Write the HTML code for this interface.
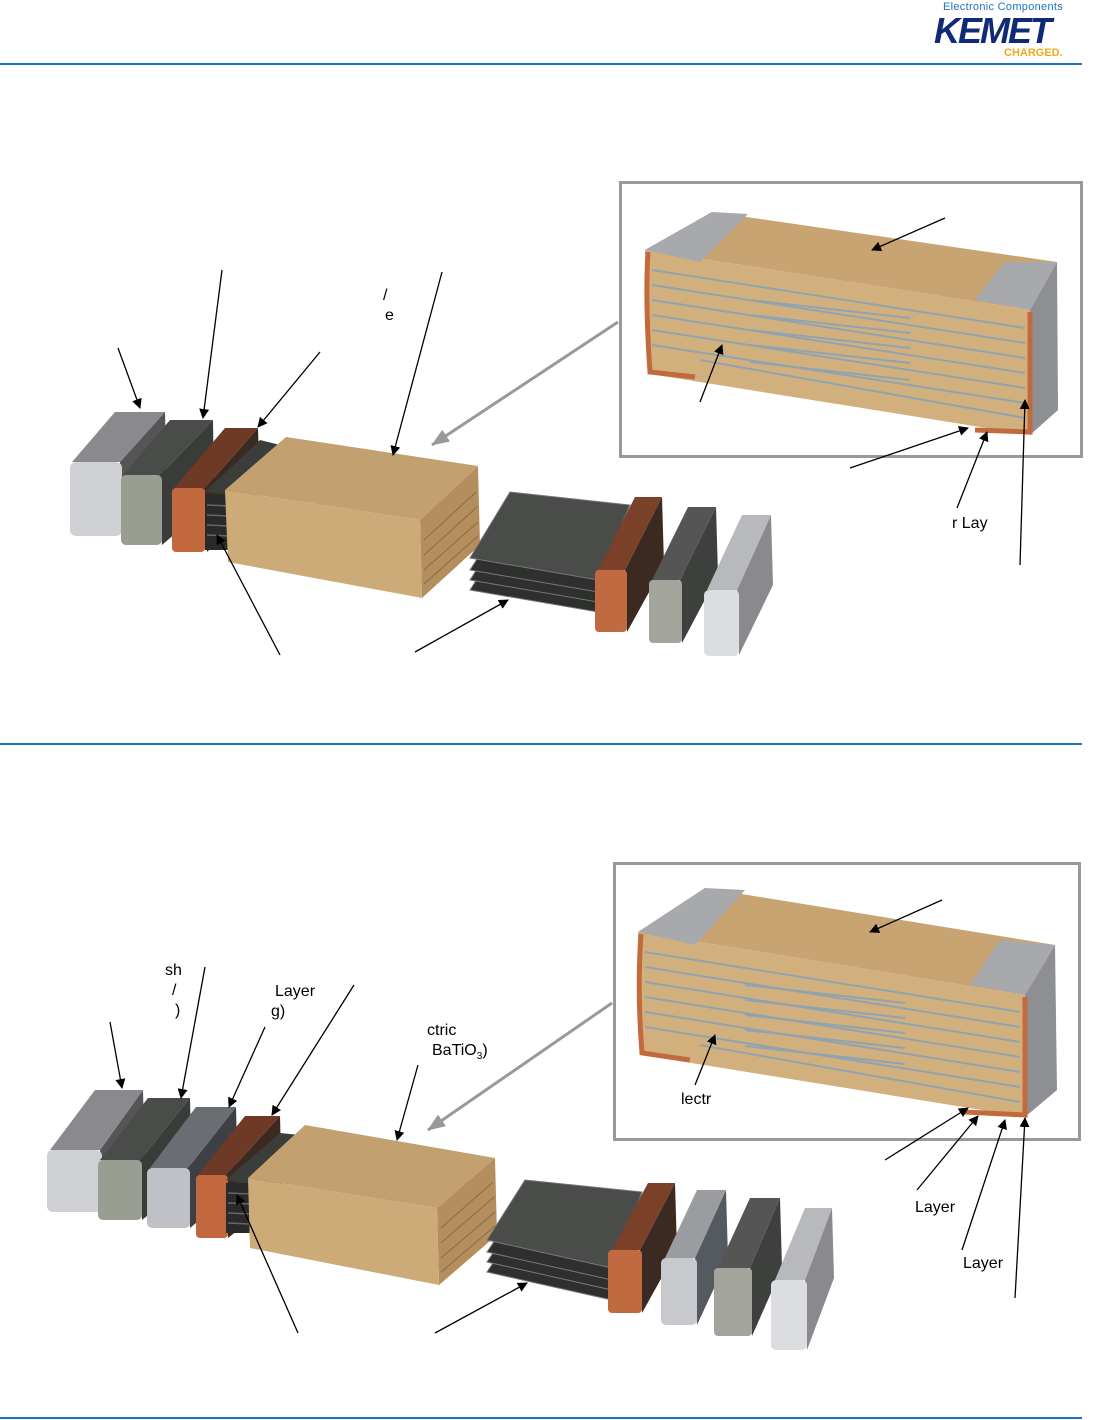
<!DOCTYPE html><html><head><style>body{margin:0;background:#fff}svg{display:block}text{font-family:"Liberation Sans",sans-serif}</style></head><body>
<svg width="1111" height="1420" viewBox="0 0 1111 1420" xmlns="http://www.w3.org/2000/svg">
<defs>
<marker id="a" markerWidth="10" markerHeight="10" refX="9" refY="5" orient="auto" markerUnits="userSpaceOnUse"><path d="M0,0 L10,5 L0,10 z" fill="#000"/></marker>
<marker id="g" markerWidth="18" markerHeight="14" refX="17" refY="7" orient="auto" markerUnits="userSpaceOnUse"><path d="M0,0 L18,7 L0,14 z" fill="#999"/></marker>
<g id="cap"><!-- generic cap: front at origin w=50 h=72, depth dx=45 dy=-50 -->
</g>
</defs>
<!-- header -->
<text x="943" y="10" font-size="11" fill="#1e73be" letter-spacing="0.3">Electronic Components</text>
<text x="934" y="43" font-size="36" font-weight="bold" font-style="italic" fill="#102a78" letter-spacing="-2">KEMET</text>
<text x="1004" y="56" font-size="11" font-weight="bold" fill="#f0a818">CHARGED.</text>
<rect x="0" y="63" width="1082" height="2" fill="#1e73be"/>
<rect x="0" y="743" width="1082" height="2" fill="#1e73be"/>
<rect x="0" y="1417" width="1082" height="2" fill="#1e73be"/>

<!-- ===== TOP DIAGRAM ===== -->
<g>
<!-- cap1 light grey -->
<polygon points="120,462 165,412 167,492 122,536" fill="#555"/>
<polygon points="72,462 115,412 165,412 120,462" fill="#8a8a8e"/>
<rect x="70" y="462" width="52" height="74" rx="6" fill="#cfd0d4"/>
<!-- cap2 -->
<polygon points="160,475 213,420 214,500 162,545" fill="#3a3c3a"/>
<polygon points="123,475 170,420 213,420 160,475" fill="#4a4c4a"/>
<rect x="121" y="475" width="41" height="70" rx="5" fill="#9a9d92"/>
<!-- copper -->
<polygon points="205,488 258,428 260,500 207,552" fill="#3a2a22"/>
<polygon points="174,488 225,428 258,428 205,488" fill="#6e3a26"/>
<rect x="172" y="488" width="33" height="64" rx="4" fill="#c2683e"/>
<!-- electrodes -->
<polygon points="205,492 260,440 280,445 232,495" fill="#3a3d3a"/>
<g fill="#2a2a2a"><rect x="205" y="495" width="25" height="55"/></g>
<g stroke="#666" stroke-width="1.5"><line x1="207" y1="505" x2="230" y2="506"/><line x1="207" y1="515" x2="230" y2="516"/><line x1="207" y1="525" x2="230" y2="526"/><line x1="207" y1="535" x2="230" y2="536"/></g>
<!-- body -->
<polygon points="420,520 478,466 480,545 422,598" fill="#b58e5e"/>
<polygon points="225,490 286,437 478,466 420,520" fill="#c2a070"/>
<polygon points="225,490 420,520 422,598 228,562" fill="#cdab79"/>
<g stroke="#8a6a45" stroke-width="1"><line x1="424" y1="540" x2="476" y2="492"/><line x1="424" y1="555" x2="477" y2="507"/><line x1="424" y1="570" x2="478" y2="522"/><line x1="424" y1="584" x2="478" y2="536"/></g>
<!-- right plates -->
<g fill="#2e302e" stroke="#777" stroke-width="1">
<polygon points="470,590 505,535 625,545 598,612"/>
<polygon points="470,580 505,525 625,535 598,602"/>
<polygon points="470,570 505,515 625,525 598,592"/>
<polygon points="470,558 510,492 630,505 598,580" fill="#4a4c4a"/>
</g>
<polygon points="625,570 662,497 664,565 627,632" fill="#3a2a22"/>
<polygon points="598,570 635,497 662,497 625,570" fill="#7a4028"/>
<rect x="595" y="570" width="32" height="62" rx="4" fill="#c06a42"/>
<polygon points="680,580 716,507 718,575 682,643" fill="#3e403e"/>
<polygon points="652,580 688,507 716,507 680,580" fill="#555"/>
<rect x="649" y="580" width="33" height="63" rx="4" fill="#a3a59c"/>
<polygon points="737,590 771,515 773,585 739,655" fill="#8a8a8e"/>
<polygon points="707,590 742,515 771,515 737,590" fill="#b8b9bd"/>
<rect x="704" y="590" width="35" height="66" rx="5" fill="#dcdde0"/>
<!-- inset -->
<rect x="620.5" y="182.5" width="461" height="274" fill="none" stroke="#999" stroke-width="3"/>
<polygon points="645,250 712,212 1057,262 1030,310" fill="#c8a472"/>
<polygon points="645,250 1030,310 1030,435 650,374" fill="#d2b07e"/>
<polygon points="1030,310 1057,262 1058,410 1030,435" fill="#8e8f93"/>
<polygon points="975,300 1005,262 1057,262 1030,310" fill="#a8a9ad"/>
<polygon points="645,250 712,212 748,214 700,262" fill="#a8a9ad"/>
<path d="M648,252 Q645,300 650,372 L695,377" fill="none" stroke="#c26a3e" stroke-width="5"/>
<path d="M1030,312 L1030,432 L975,430" fill="none" stroke="#c26a3e" stroke-width="5"/>
<g stroke="#8fa3b0" stroke-width="2">
<line x1="652" y1="270" x2="1025" y2="328"/><line x1="652" y1="285" x2="1025" y2="343"/><line x1="652" y1="300" x2="1025" y2="358"/><line x1="652" y1="315" x2="1025" y2="373"/><line x1="652" y1="330" x2="1025" y2="388"/><line x1="652" y1="345" x2="1025" y2="403"/><line x1="700" y1="360" x2="1025" y2="418"/>
<line x1="750" y1="300" x2="910" y2="318"/><line x1="750" y1="315" x2="910" y2="333"/><line x1="750" y1="330" x2="910" y2="348"/><line x1="750" y1="345" x2="910" y2="363"/><line x1="750" y1="362" x2="910" y2="380"/>
</g>
<!-- arrows -->
<g stroke="#000" stroke-width="1.3" marker-end="url(#a)">
<line x1="118" y1="348" x2="140" y2="408"/><line x1="222" y1="270" x2="203" y2="418"/><line x1="320" y1="352" x2="258" y2="427"/><line x1="442" y1="272" x2="393" y2="455"/>
<line x1="280" y1="655" x2="217" y2="535"/><line x1="415" y1="652" x2="508" y2="600"/>
<line x1="945" y1="218" x2="872" y2="250"/><line x1="700" y1="402" x2="722" y2="345"/><line x1="850" y1="468" x2="968" y2="428"/><line x1="957" y1="508" x2="987" y2="432"/><line x1="1020" y1="565" x2="1025" y2="400"/>
</g>
<line x1="618" y1="322" x2="432" y2="445" stroke="#999" stroke-width="3" marker-end="url(#g)"/>
<g font-size="16" fill="#000"><text x="383" y="300">/</text><text x="385" y="320">e</text><text x="952" y="528">r Lay</text></g>
</g>

<!-- ===== BOTTOM DIAGRAM ===== -->
<g>
<polygon points="100,1150 143,1090 145,1170 102,1212" fill="#555"/>
<polygon points="50,1150 95,1090 143,1090 100,1150" fill="#8a8a8e"/>
<rect x="47" y="1150" width="55" height="62" rx="6" fill="#cfd0d4"/>
<polygon points="140,1160 190,1098 192,1180 142,1220" fill="#3a3c3a"/>
<polygon points="100,1160 148,1098 190,1098 140,1160" fill="#4a4c4a"/>
<rect x="98" y="1160" width="44" height="60" rx="5" fill="#9a9d92"/>
<polygon points="188,1168 236,1107 238,1188 190,1228" fill="#3d4044"/>
<polygon points="150,1168 196,1107 236,1107 188,1168" fill="#6a6d72"/>
<rect x="147" y="1168" width="43" height="60" rx="5" fill="#bfc1c6"/>
<polygon points="226,1175 280,1116 282,1195 228,1238" fill="#3a2a22"/>
<polygon points="198,1175 245,1116 280,1116 226,1175" fill="#6e3a26"/>
<rect x="196" y="1175" width="32" height="63" rx="4" fill="#c2683e"/>
<polygon points="226,1180 280,1133 300,1135 252,1185" fill="#3a3d3a"/>
<rect x="226" y="1183" width="25" height="50" fill="#2a2a2a"/>
<g stroke="#666" stroke-width="1.5"><line x1="228" y1="1193" x2="250" y2="1194"/><line x1="228" y1="1203" x2="250" y2="1204"/><line x1="228" y1="1213" x2="250" y2="1214"/><line x1="228" y1="1223" x2="250" y2="1224"/></g>
<polygon points="437,1208 495,1158 497,1235 439,1285" fill="#b58e5e"/>
<polygon points="248,1178 305,1125 495,1158 437,1208" fill="#c2a070"/>
<polygon points="248,1178 437,1208 439,1285 250,1248" fill="#cdab79"/>
<g stroke="#8a6a45" stroke-width="1"><line x1="441" y1="1228" x2="493" y2="1182"/><line x1="441" y1="1243" x2="494" y2="1197"/><line x1="441" y1="1258" x2="495" y2="1212"/><line x1="441" y1="1272" x2="495" y2="1226"/></g>
<g fill="#2e302e" stroke="#777" stroke-width="1">
<polygon points="487,1272 522,1220 640,1232 612,1300"/>
<polygon points="487,1262 522,1210 640,1222 612,1290"/>
<polygon points="487,1252 522,1200 640,1212 612,1280"/>
<polygon points="487,1240 525,1180 642,1192 612,1268" fill="#4a4c4a"/>
</g>
<polygon points="640,1250 675,1183 677,1250 642,1313" fill="#3a2a22"/>
<polygon points="612,1250 648,1183 675,1183 640,1250" fill="#7a4028"/>
<rect x="608" y="1250" width="34" height="63" rx="4" fill="#c06a42"/>
<polygon points="695,1258 726,1190 728,1258 697,1325" fill="#555a60"/>
<polygon points="665,1258 697,1190 726,1190 695,1258" fill="#9a9ca0"/>
<rect x="661" y="1258" width="36" height="67" rx="5" fill="#c8c9cd"/>
<polygon points="750,1268 780,1198 782,1268 752,1336" fill="#3e403e"/>
<polygon points="718,1268 750,1198 780,1198 750,1268" fill="#555"/>
<rect x="714" y="1268" width="38" height="68" rx="4" fill="#a3a59c"/>
<polygon points="805,1280 832,1208 834,1278 807,1350" fill="#8a8a8e"/>
<polygon points="775,1280 805,1208 832,1208 805,1280" fill="#b8b9bd"/>
<rect x="771" y="1280" width="36" height="70" rx="5" fill="#dcdde0"/>
<!-- inset -->
<rect x="614.5" y="863.5" width="465" height="276" fill="none" stroke="#999" stroke-width="3"/>
<polygon points="638,932 705,888 1055,945 1025,995" fill="#c8a472"/>
<polygon points="638,932 1025,995 1025,1117 642,1055" fill="#d2b07e"/>
<polygon points="1025,995 1055,945 1057,1090 1025,1117" fill="#8e8f93"/>
<polygon points="970,985 1000,940 1055,945 1025,995" fill="#a8a9ad"/>
<polygon points="638,932 705,888 745,890 695,945" fill="#a8a9ad"/>
<path d="M641,934 Q637,990 642,1053 L690,1060" fill="none" stroke="#c26a3e" stroke-width="5"/>
<path d="M1025,997 L1025,1115 L965,1112" fill="none" stroke="#c26a3e" stroke-width="5"/>
<g stroke="#8fa3b0" stroke-width="2">
<line x1="645" y1="952" x2="1020" y2="1012"/><line x1="645" y1="967" x2="1020" y2="1027"/><line x1="645" y1="982" x2="1020" y2="1042"/><line x1="645" y1="997" x2="1020" y2="1057"/><line x1="645" y1="1012" x2="1020" y2="1072"/><line x1="645" y1="1027" x2="1020" y2="1087"/><line x1="700" y1="1045" x2="1020" y2="1102"/>
<line x1="745" y1="985" x2="905" y2="1003"/><line x1="745" y1="1000" x2="905" y2="1018"/><line x1="745" y1="1015" x2="905" y2="1033"/><line x1="745" y1="1030" x2="905" y2="1048"/><line x1="745" y1="1046" x2="905" y2="1064"/>
</g>
<g stroke="#000" stroke-width="1.3" marker-end="url(#a)">
<line x1="110" y1="1022" x2="122" y2="1088"/><line x1="205" y1="967" x2="181" y2="1098"/><line x1="265" y1="1027" x2="229" y2="1107"/><line x1="354" y1="985" x2="272" y2="1115"/><line x1="418" y1="1065" x2="397" y2="1140"/>
<line x1="298" y1="1333" x2="237" y2="1195"/><line x1="435" y1="1333" x2="527" y2="1283"/>
<line x1="942" y1="900" x2="870" y2="932"/><line x1="695" y1="1085" x2="715" y2="1035"/><line x1="885" y1="1160" x2="968" y2="1108"/><line x1="917" y1="1190" x2="978" y2="1116"/><line x1="962" y1="1250" x2="1005" y2="1120"/><line x1="1015" y1="1298" x2="1025" y2="1118"/>
</g>
<line x1="612" y1="1003" x2="428" y2="1130" stroke="#999" stroke-width="3" marker-end="url(#g)"/>
<g font-size="16" fill="#000">
<text x="165" y="975">sh</text><text x="172" y="995">/</text><text x="175" y="1015">)</text>
<text x="275" y="996">Layer</text><text x="271" y="1016">g)</text>
<text x="427" y="1035">ctric</text><text x="432" y="1055">BaTiO<tspan font-size="10" dy="4">3</tspan><tspan dy="-4">)</tspan></text>
<text x="681" y="1104">lectr</text><text x="915" y="1212">Layer</text><text x="963" y="1268">Layer</text>
</g>
</g>
</svg>
</body></html>
